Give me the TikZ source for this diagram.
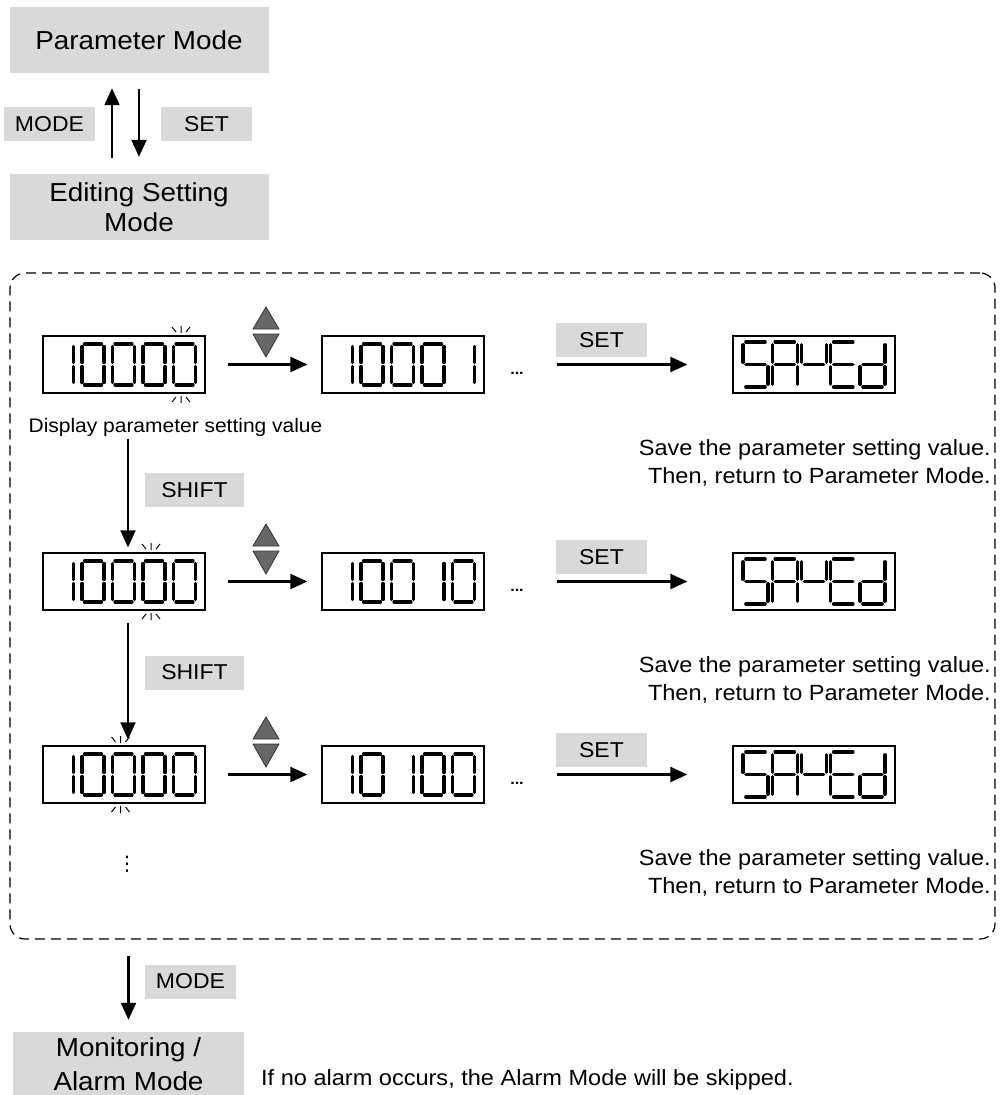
\documentclass[tikz,border=0pt]{standalone}
\usepackage{fontspec}
\setmainfont{Liberation Sans}[FakeStretch=1.07]
\newfontfamily\symfont{DejaVu Sans}
\usetikzlibrary{arrows.meta}
\definecolor{keygray}{HTML}{D9D9D9}
\definecolor{keyfill}{HTML}{676767}
\definecolor{keyedge}{HTML}{333333}

\expandafter\def\csname dg0\endcsname{a,b,c,d,e,f}
\expandafter\def\csname dg1\endcsname{b,c}
\def\dgS{a,f,g,c,d}
\def\dgA{a,b,c,e,f,g}
\def\dgY{b,f,g}
\def\dgE{a,d,e,f,g}
\def\dgd{b,c,d,e,g}
\def\sga{(2.5,0) -- (19.5,0)}
\def\sgb{(22,2.5) -- (22,18.5)}
\def\sgc{(22,22.5) -- (22,38.5)}
\def\sgd{(2.5,41) -- (19.5,41)}
\def\sge{(0,22.5) -- (0,38.5)}
\def\sgf{(0,2.5) -- (0,18.5)}
\def\sgg{(2.5,20.5) -- (19.5,20.5)}
\tikzset{segsize/.style={}}
\newcommand{\segdigit}[3]{\begin{scope}[shift={(#1,#2)},segsize]\foreach \sgs in {#3}{\edef\segtmp{\noexpand\draw[seg] \csname sg\sgs\endcsname;}\segtmp}\end{scope}}
\newcommand{\segrow}[5]{\foreach \sgch [count=\sgk from 0] in {#5}{\edef\segcall{\noexpand\segdigit{#1+#3+#4*\sgk}{#2}{\csname dg\sgch\endcsname}}\segcall}}
\newcommand{\blinkmark}[3]{\draw[blink] (#1-9,#2-9) -- (#1-5,#2-4) (#1,#2-10) -- (#1,#2-3) (#1+9,#2-9) -- (#1+5,#2-4);
  \draw[blink] (#1-9,#3+9) -- (#1-5,#3+4) (#1,#3+10) -- (#1,#3+3) (#1+9,#3+9) -- (#1+5,#3+4);}
\newcommand{\updownkeys}[2]{\filldraw[keytri] (#1-13,#2-7) -- (#1+13,#2-7) -- (#1,#2-29) -- cycle;
  \filldraw[keytri] (#1-13,#2-2) -- (#1+13,#2-2) -- (#1,#2+21) -- cycle;}

\begin{document}
\begin{tikzpicture}[x=1pt,y=-1pt,
  modebox/.style={fill=keygray,minimum width=259pt,minimum height=66pt,inner sep=0pt,align=center,font=\fontsize{26}{30}\selectfont},
  keybox/.style={fill=keygray,minimum width=91pt,minimum height=34pt,inner sep=0pt,font=\fontsize{21.5}{26}\selectfont},
  disp/.style={draw,line width=1.3pt,minimum width=162pt,minimum height=57pt,inner sep=0pt},
  seg/.style={line width=3.3pt,line cap=round},
  blink/.style={line width=1pt},
  keytri/.style={fill=keyfill,draw=keyedge,line width=0.8pt},
  arr/.style={line width=2.2pt,-{Triangle[length=17pt,width=15pt]}},
  dashframe/.style={draw,dash pattern=on 10pt off 6pt,line width=1.2pt,rounded corners=15pt,minimum width=985pt,minimum height=666pt,inner sep=0pt},
  note/.style={font=\fontsize{22}{28}\selectfont,align=right,inner sep=0pt},
  dots/.style={inner sep=0pt,font=\bfseries\fontsize{15}{15}\selectfont}]
\useasboundingbox (0,0) rectangle (999,1095);
\node[modebox] (pmode) at (139,40) {Parameter Mode};
\node[modebox] (emode) at (139,207) {Editing Setting\\Mode};
\node[keybox] (modekey) at (49.5,124) {MODE};
\node[keybox] (setkey) at (206.5,124) {SET};
\draw[arr,shorten <=16pt,shorten >=15pt] ([xshift=-27pt]emode.north) -- ([xshift=-27pt]pmode.south);
\draw[arr,shorten <=16pt,shorten >=17pt] (pmode.south) -- (emode.north);
\node[dashframe] (frame) at (502.5,606) {};

\node[disp] (d11) at (124,364.5) {};
\node[disp] (d12) at (403,364.5) {};
\node[disp] (d13) at (814,364.5) {};
\segrow{43}{344}{8.5}{30.5}{1,0,0,0,0}
\segrow{322}{344}{8.5}{30.5}{1,0,0,0,1}
\begin{scope}[segsize/.style={xscale=1.136,yscale=1.098}]\segrow{733}{342}{10}{29.25}{S,A,Y,E,d}\end{scope}
\blinkmark{181}{336}{393}
\updownkeys{266}{336}
\draw[arr,shorten <=22pt,shorten >=14pt] (d11) -- (d12);
\node[dots] (dots1) at (517,373.5) {...};
\node[keybox] (set1) at (601.5,340) {SET};
\draw[arr,shorten <=72pt,shorten >=45pt] (d12) -- (d13);
\node[note,anchor=east] (save1) at (991,462.5) {Save the parameter setting value.\\Then, return to Parameter Mode.};
\node[inner sep=0pt,font=\fontsize{19.6}{24}\selectfont] (dispnote) at (175.5,427) {Display parameter setting value};
\node[keybox,minimum width=99pt] (shift1) at (194.5,490) {SHIFT};

\node[disp] (d21) at (124,581.5) {};
\node[disp] (d22) at (403,581.5) {};
\node[disp] (d23) at (814,581.5) {};
\segrow{43}{561}{8.5}{30.5}{1,0,0,0,0}
\segrow{322}{561}{8.5}{30.5}{1,0,0,1,0}
\begin{scope}[segsize/.style={xscale=1.136,yscale=1.098}]\segrow{733}{559}{10}{29.25}{S,A,Y,E,d}\end{scope}
\blinkmark{151}{553}{610}
\updownkeys{266}{553}
\draw[arr,shorten <=45pt,shorten >=5pt] ([xshift=4pt]d11.south) -- ([xshift=4pt]d21.north);
\draw[arr,shorten <=22pt,shorten >=14pt] (d21) -- (d22);
\node[dots] (dots2) at (517,590.5) {...};
\node[keybox] (set2) at (601.5,557) {SET};
\draw[arr,shorten <=72pt,shorten >=45pt] (d22) -- (d23);
\node[note,anchor=east] (save2) at (991,679.5) {Save the parameter setting value.\\Then, return to Parameter Mode.};
\node[keybox,minimum width=99pt] (shift2) at (194.5,672.5) {SHIFT};

\node[disp] (d31) at (124,774.5) {};
\node[disp] (d32) at (403,774.5) {};
\node[disp] (d33) at (814,774.5) {};
\segrow{43}{754}{8.5}{30.5}{1,0,0,0,0}
\segrow{322}{754}{8.5}{30.5}{1,0,1,0,0}
\begin{scope}[segsize/.style={xscale=1.136,yscale=1.098}]\segrow{733}{752}{10}{29.25}{S,A,Y,E,d}\end{scope}
\blinkmark{120.5}{746}{803}
\updownkeys{266}{746}
\draw[arr,shorten <=12pt,shorten >=6pt] ([xshift=4pt]d21.south) -- ([xshift=4pt]d31.north);
\draw[arr,shorten <=22pt,shorten >=14pt] (d31) -- (d32);
\node[dots] (dots3) at (517,783.5) {...};
\node[keybox] (set3) at (601.5,750) {SET};
\draw[arr,shorten <=72pt,shorten >=45pt] (d32) -- (d33);
\node[note,anchor=east] (save3) at (991,872.5) {Save the parameter setting value.\\Then, return to Parameter Mode.};
\node[inner sep=0pt,font=\symfont\fontsize{20}{20}\selectfont] (vdots) at (127,864) {⋮};

\node[keybox] (modekey2) at (190.5,981.5) {MODE};
\node[modebox,minimum width=231pt,minimum height=64pt,font=\fontsize{26}{34}\selectfont] (mon) at (128.5,1064) {Monitoring /\\Alarm Mode};
\draw[arr,shorten <=16pt,shorten >=12pt] (frame.south -| mon.north) -- (mon.north);
\node[anchor=west,inner sep=0pt,font=\fontsize{22}{26}\selectfont] (skipnote) at (261,1080) {If no alarm occurs, the Alarm Mode will be skipped.};
\end{tikzpicture}
\end{document}
